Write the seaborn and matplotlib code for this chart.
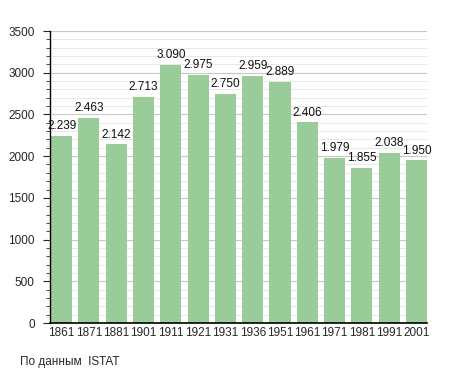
import matplotlib
matplotlib.use("Agg")
import matplotlib.pyplot as plt
import seaborn as sns
import pandas as pd
from matplotlib.ticker import MultipleLocator

years = ["1861", "1871", "1881", "1901", "1911", "1921", "1931", "1936", "1951", "1961", "1971", "1981", "1991", "2001"]
population = [2239, 2463, 2142, 2713, 3090, 2975, 2750, 2959, 2889, 2406, 1979, 1855, 2038, 1950]
labels = ["2.239", "2.463", "2.142", "2.713", "3.090", "2.975", "2.750", "2.959", "2.889", "2.406", "1.979", "1.855", "2.038", "1.950"]

sns.set_style("white")
plt.rcParams['font.family'] = ['Liberation Sans', 'DejaVu Sans']

df = pd.DataFrame({"year": years, "pop": population})

W = 0.77
fig = plt.figure(figsize=(4.55, 3.73), dpi=100)
ax = fig.add_axes([50/455, 50/373, 377/455, 292/373])

ax.yaxis.set_major_locator(MultipleLocator(500))
ax.yaxis.set_minor_locator(MultipleLocator(100))
ax.set_ylim(0, 3500)
ax.grid(which='major', axis='y', color='#c8c8c8', linewidth=0.8, zorder=0)
ax.grid(which='minor', axis='y', color='#e4e4e4', linewidth=0.6, zorder=0)
ax.set_axisbelow(True)

sns.barplot(data=df, x="year", y="pop", color="#99cc99", saturation=1, width=W,
            linewidth=0, edgecolor='none', ax=ax, zorder=2)
ax.set_xlim(-W/2 - 0.04, len(years) - 1 + W/2)

for i, (v, t) in enumerate(zip(population, labels)):
    ax.text(i, v + 45, t, ha='center', va='bottom', fontsize=8.5, color='#111111')

for s in ['top', 'right']:
    ax.spines[s].set_visible(False)
ax.spines['left'].set_color('black')
ax.spines['bottom'].set_color('black')
ax.spines['left'].set_linewidth(1.0)
ax.spines['bottom'].set_linewidth(1.2)

ax.tick_params(axis='y', which='major', length=5, width=0.8, direction='out', labelsize=8.5, left=True, pad=6)
ax.tick_params(axis='y', which='minor', length=3, width=0.6, direction='out', left=True)
ax.tick_params(axis='x', length=0, labelsize=8.5, pad=3)
ax.set_xlabel("")
ax.set_ylabel("")

fig.text(20/455, 1 - 362/373, "По данным  ISTAT", fontsize=8.5, ha='left', va='center')

fig.savefig("out.png", dpi=100)
